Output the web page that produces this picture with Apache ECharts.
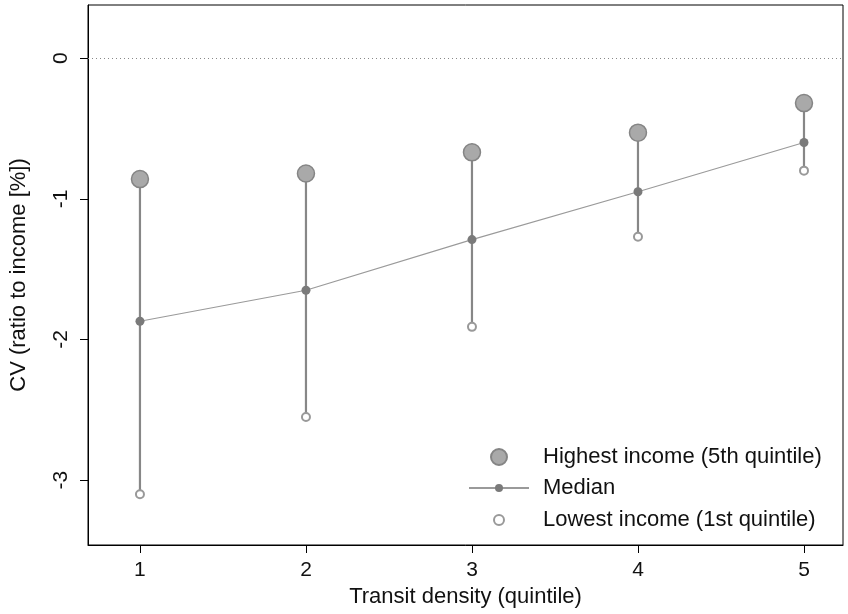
<!DOCTYPE html>
<html>
<head>
<meta charset="utf-8">
<script src="https://cdn.jsdelivr.net/npm/echarts@6/dist/echarts.min.js"></script>
<style>
  html, body { margin: 0; padding: 0; background: #fff; }
  #chart { width: 848px; height: 614px; }
</style>
</head>
<body>
<div id="chart"></div>
<script>
var quintiles = [1, 2, 3, 4, 5]
var highIncome = [-0.86, -0.82, -0.67, -0.53, -0.32]
var median = [-1.87, -1.65, -1.29, -0.95, -0.60]
var lowIncome = [-3.10, -2.55, -1.91, -1.27, -0.80]
var xTicks = [1, 2, 3, 4, 5]
var yTicks = [-3, -2, -1, 0]

var font = 'Liberation Sans, Arial, sans-serif'
var myChart = echarts.init(document.getElementById('chart'))

function pairs(vals) {
  return quintiles.map(function (q, i) { return [q, vals[i]] })
}

var rangeData = quintiles.map(function (q, i) { return [q, lowIncome[i], highIncome[i]] })

// one legend per entry so each key keeps its own size
function legendBox(name, left, top, h) {
  return {
    data: [name],
    left: left,
    top: top,
    orient: 'vertical',
    itemWidth: 60,
    itemHeight: h,
    selectedMode: false,
    textStyle: { fontFamily: font, fontSize: 22, color: '#111', padding: [0, 0, 0, 9] }
  }
}

var option = {
  animation: false,
  grid: {
    left: 87, right: 5, top: 5, bottom: 69,
    show: true, borderColor: '#000', borderWidth: 1
  },
  legend: [
    legendBox('Highest income (5th quintile)', 485, 441, 16),
    legendBox('Median', 463, 472, 10),
    legendBox('Lowest income (1st quintile)', 488, 504, 10)
  ],
  xAxis: {
    type: 'value',
    min: 0.687,
    max: 5.235,
    name: 'Transit density (quintile)',
    nameLocation: 'middle',
    nameGap: 41,
    nameTextStyle: { fontFamily: font, fontSize: 22, color: '#111' },
    axisLine: { show: true, onZero: false, lineStyle: { color: '#000' } },
    axisTick: { show: true, length: 8, customValues: xTicks, lineStyle: { color: '#000' } },
    axisLabel: { customValues: xTicks, margin: 15, fontFamily: font, fontSize: 21, color: '#111' },
    splitLine: { show: false }
  },
  yAxis: {
    type: 'value',
    min: -3.46,
    max: 0.377,
    name: 'CV (ratio to income [%])',
    nameLocation: 'middle',
    nameRotate: 90,
    nameGap: 58,
    nameTextStyle: { fontFamily: font, fontSize: 22, color: '#111' },
    axisLine: { show: true, onZero: false, lineStyle: { color: '#000' } },
    axisTick: { show: true, length: 8, customValues: yTicks, lineStyle: { color: '#000' } },
    axisLabel: { customValues: yTicks, rotate: 90, margin: 16, fontFamily: font, fontSize: 21, color: '#111' },
    splitLine: { show: false }
  },
  series: [
    {
      name: 'range',
      type: 'custom',
      data: rangeData,
      renderItem: function (params, api) {
        var p1 = api.coord([api.value(0), api.value(1)])
        var p2 = api.coord([api.value(0), api.value(2)])
        return {
          type: 'line',
          shape: { x1: p1[0], y1: p1[1], x2: p2[0], y2: p2[1] },
          style: { stroke: '#878787', lineWidth: 2.2 }
        }
      },
      z: 1
    },
    {
      name: 'Median',
      type: 'line',
      data: pairs(median),
      symbol: 'circle',
      symbolSize: 9,
      lineStyle: { color: '#9a9a9a', width: 1.2 },
      itemStyle: { color: '#7a7a7a', borderColor: '#7a7a7a', borderWidth: 0 },
      markLine: {
        silent: true,
        symbol: 'none',
        label: { show: false },
        lineStyle: { color: '#888', type: [1, 3], width: 1 },
        data: [{ yAxis: 0 }]
      },
      z: 3
    },
    {
      name: 'Highest income (5th quintile)',
      type: 'scatter',
      data: pairs(highIncome),
      symbol: 'circle',
      symbolSize: 17,
      itemStyle: { color: '#a9a9a9', borderColor: '#858585', borderWidth: 1.5, opacity: 1 },
      z: 4
    },
    {
      name: 'Lowest income (1st quintile)',
      type: 'scatter',
      data: pairs(lowIncome),
      symbol: 'circle',
      symbolSize: 8,
      itemStyle: { color: '#fff', borderColor: '#999', borderWidth: 2, opacity: 1 },
      z: 4
    }
  ]
}

myChart.setOption(option)
</script>
</body>
</html>
